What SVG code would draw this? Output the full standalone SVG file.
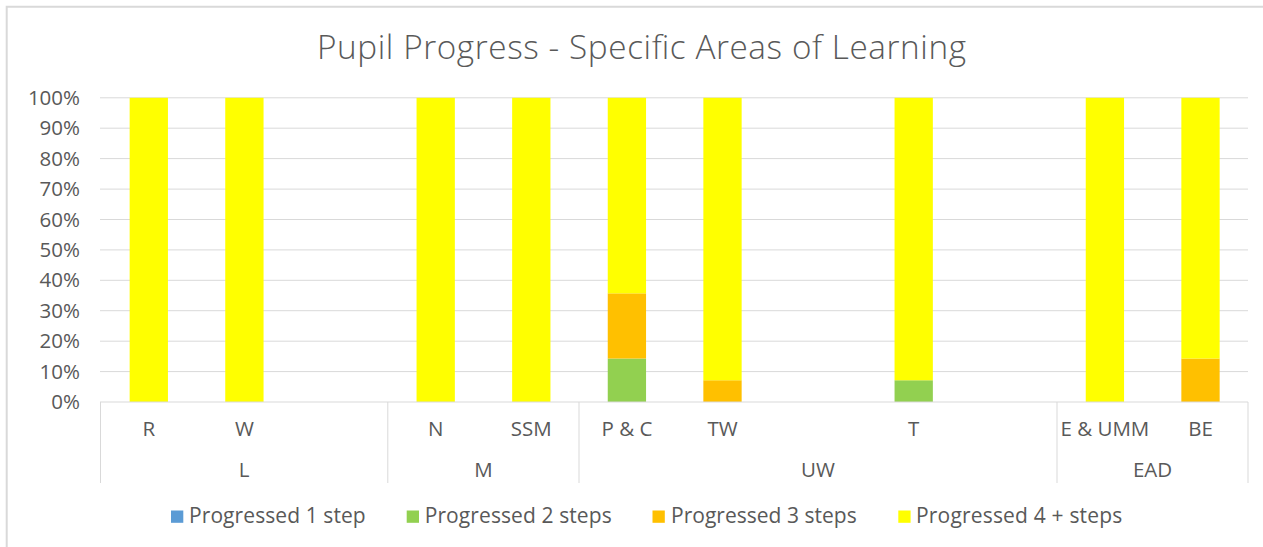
<svg xmlns="http://www.w3.org/2000/svg" width="1263" height="547" viewBox="0 0 1263 547">
<style>
text{font-family:"Open Sans","Noto Sans","Liberation Sans",sans-serif;fill:#595959}
.title{font-size:33.3px;font-weight:300}
.ax{font-size:20.5px;text-anchor:end}
.cat{font-size:20.5px;text-anchor:middle}
.leg{font-size:21px}
.grid{stroke:#D9D9D9;stroke-width:1;fill:none}
.s1{fill:#5B9BD5}.s2{fill:#92D050}.s3{fill:#FFC000}.s4{fill:#FFFF00}
</style>
<rect x="0" y="0" width="1263" height="547" fill="#FFFFFF"/>
<path d="M6.7 547V6.7H1263" fill="none" stroke="#D9D9D9" stroke-width="2"/>
<g id="title"><text class="title" x="641.5" y="59" text-anchor="middle" textLength="649">Pupil Progress - Specific Areas of Learning</text></g>
<g id="gridlines" class="grid">
<path d="M100 97.8H1248M100 128.2H1248M100 158.6H1248M100 189.1H1248M100 219.5H1248M100 249.9H1248M100 280.3H1248M100 310.7H1248M100 341.2H1248M100 371.6H1248"/>
</g>
<g id="y-axis">
<text class="ax" x="80" y="104.8">100%</text>
<text class="ax" x="80" y="135.2">90%</text>
<text class="ax" x="80" y="165.6">80%</text>
<text class="ax" x="80" y="196.1">70%</text>
<text class="ax" x="80" y="226.5">60%</text>
<text class="ax" x="80" y="256.9">50%</text>
<text class="ax" x="80" y="287.3">40%</text>
<text class="ax" x="80" y="317.7">30%</text>
<text class="ax" x="80" y="348.2">20%</text>
<text class="ax" x="80" y="378.6">10%</text>
<text class="ax" x="80" y="409">0%</text>
</g>
<g id="bar-R"><rect class="s4" x="129.65" y="97.8" width="38.3" height="304.2"/></g>
<g id="bar-W"><rect class="s4" x="225.25" y="97.8" width="38.3" height="304.2"/></g>
<g id="bar-N"><rect class="s4" x="416.55" y="97.8" width="38.3" height="304.2"/></g>
<g id="bar-SSM"><rect class="s4" x="512.15" y="97.8" width="38.3" height="304.2"/></g>
<g id="bar-PC">
<rect class="s2" x="607.75" y="358.54" width="38.3" height="43.46"/>
<rect class="s3" x="607.75" y="293.35" width="38.3" height="65.19"/>
<rect class="s4" x="607.75" y="97.8" width="38.3" height="195.55"/>
</g>
<g id="bar-TW">
<rect class="s3" x="703.35" y="380.27" width="38.3" height="21.73"/>
<rect class="s4" x="703.35" y="97.8" width="38.3" height="282.47"/>
</g>
<g id="bar-T">
<rect class="s2" x="894.55" y="380.27" width="38.3" height="21.73"/>
<rect class="s4" x="894.55" y="97.8" width="38.3" height="282.47"/>
</g>
<g id="bar-EUMM"><rect class="s4" x="1085.75" y="97.8" width="38.3" height="304.2"/></g>
<g id="bar-BE">
<rect class="s3" x="1181.35" y="358.54" width="38.3" height="43.46"/>
<rect class="s4" x="1181.35" y="97.8" width="38.3" height="260.74"/>
</g>
<g id="connectors" class="grid">
<path d="M100 402H1248M100.5 402V483M387.8 402V483M579 402V483M1057 402V483M1248 402V483"/>
</g>
<g id="category-labels">
<text class="cat" x="148.8" y="435.5">R</text>
<text class="cat" x="244.4" y="435.5">W</text>
<text class="cat" x="435.7" y="435.5">N</text>
<text class="cat" x="531.3" y="435.5">SSM</text>
<text class="cat" x="626.9" y="435.5">P &amp; C</text>
<text class="cat" x="722.5" y="435.5">TW</text>
<text class="cat" x="913.7" y="435.5">T</text>
<text class="cat" x="1104.9" y="435.5">E &amp; UMM</text>
<text class="cat" x="1200.5" y="435.5">BE</text>
<text class="cat" x="244" y="476.5">L</text>
<text class="cat" x="483.4" y="476.5">M</text>
<text class="cat" x="818" y="476.5">UW</text>
<text class="cat" x="1152.5" y="476.5">EAD</text>
</g>
<g id="legend">
<rect class="s1" x="171" y="510.5" width="12.3" height="12.3"/>
<text class="leg" x="189" y="523" textLength="176.7">Progressed 1 step</text>
<rect class="s2" x="406.7" y="510.5" width="12.3" height="12.3"/>
<text class="leg" x="424.7" y="523" textLength="187">Progressed 2 steps</text>
<rect class="s3" x="652.5" y="510.5" width="12.3" height="12.3"/>
<text class="leg" x="671" y="523" textLength="185.7">Progressed 3 steps</text>
<rect class="s4" x="898.3" y="510.5" width="12.3" height="12.3"/>
<text class="leg" x="916" y="523" textLength="206.3">Progressed 4 + steps</text>
</g>
</svg>
